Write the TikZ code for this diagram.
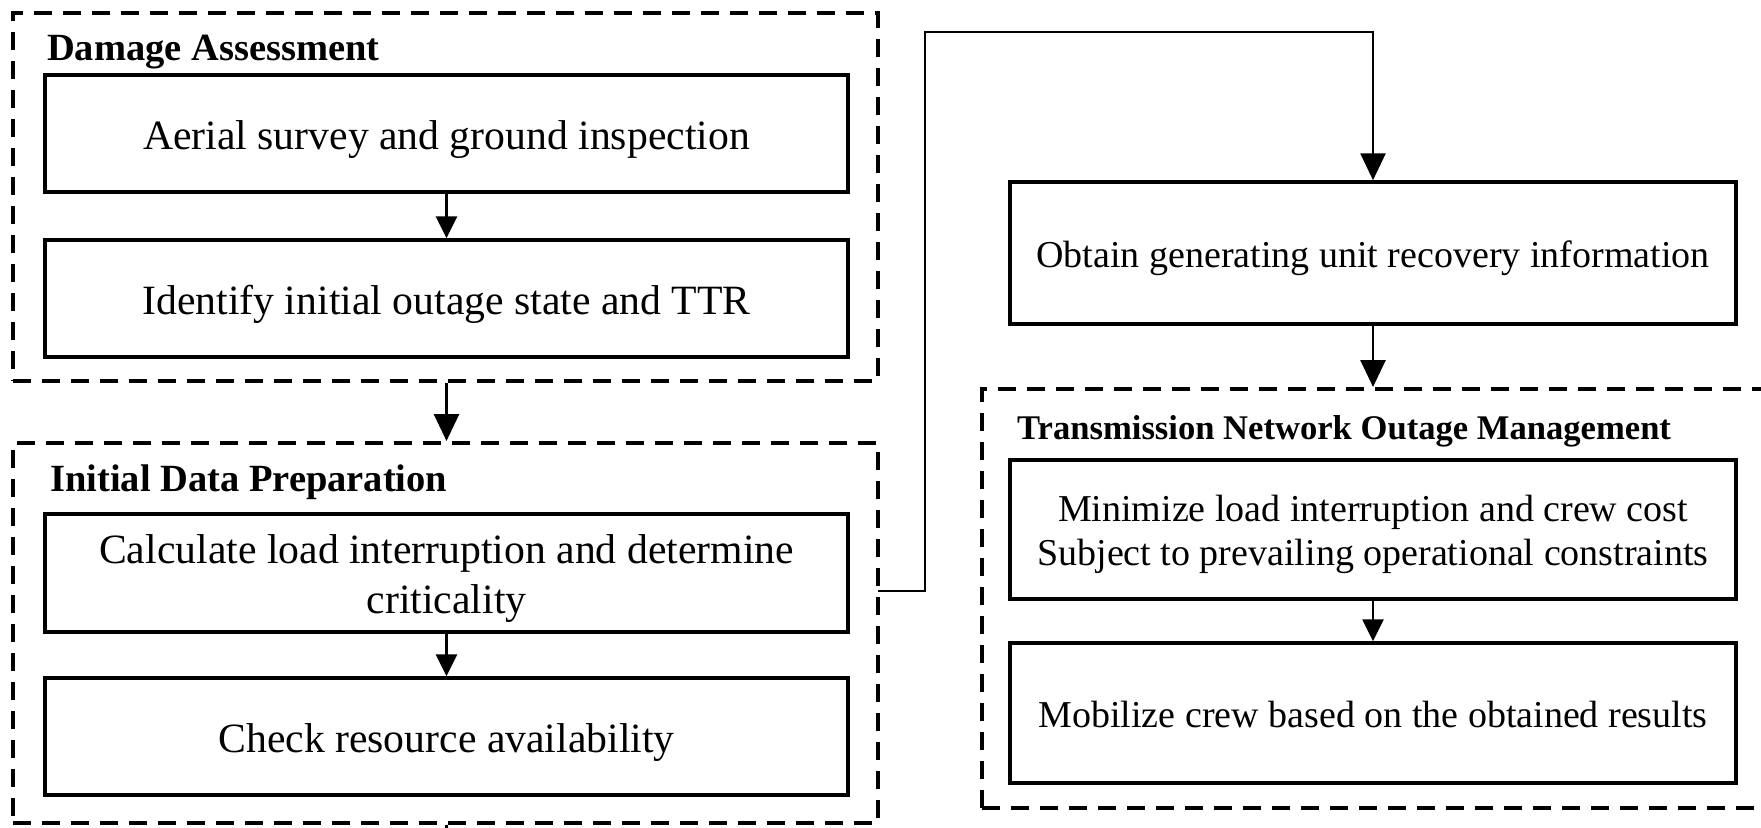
\documentclass[tikz,border=0pt]{standalone}
\usepackage{fontspec}
\setmainfont{Liberation Serif}
\usetikzlibrary{arrows.meta,calc}
\newcommand{\boxtxt}[1]{\raisebox{-5.5pt}[\height][\depth]{\begin{tabular}{@{}c@{}}#1\end{tabular}}}
\tikzset{
  stepbox/.style={draw,line width=3.5pt,minimum width=803pt,inner sep=0pt,
    font=\fontsize{41.7}{50}\selectfont},
  rbox/.style={draw,line width=3.5pt,minimum width=726pt,inner sep=0pt,
    font=\fontsize{38}{44}\selectfont},
  group/.style={draw,line width=4pt,dash pattern=on 18pt off 11pt,inner sep=0pt},
  gtitle/.style={anchor=base west,inner sep=0pt,font=\fontsize{38.5}{44}\selectfont\bfseries},
  conn/.style={line width=2.8pt},
  arr/.style={line width=2.8pt,-{Triangle[length=22pt,width=21pt]}},
  bigarr/.style={line width=2.8pt,-{Triangle[length=27pt,width=25pt]}}
}
\begin{document}
\begin{tikzpicture}[x=1pt,y=-1pt]
\fill[white] (0,0) rectangle (1761,827);
\clip (0,0) rectangle (1761,827);
% group boxes
\node[group,minimum width=865pt,minimum height=368pt] (da) at (445.5,197) {};
\node[group,minimum width=865pt,minimum height=380pt] (idp) at (445.5,633) {};
\node[group,minimum width=808pt,minimum height=419pt] (tnom) at (1386,598.5) {};
% titles
\node[gtitle] (tda) at (47,60) {Damage Assessment};
\node[gtitle] (tidp) at (50,491) {Initial Data Preparation};
\node[gtitle,font=\fontsize{34.6}{40}\selectfont\bfseries] (ttn) at (1017,439) {Transmission Network Outage Management};
% left boxes
\node[stepbox,minimum height=117pt] (b1) at (446.5,133.5) {\boxtxt{Aerial survey and ground inspection}};
\node[stepbox,minimum height=117pt] (b2) at (446.5,298.5) {\boxtxt{Identify initial outage state and TTR}};
\node[stepbox,minimum height=118pt] (b3) at (446.5,573) {\boxtxt{Calculate load interruption and determine\\criticality}};
\node[stepbox,minimum height=117pt] (b4) at (446.5,736.5) {\boxtxt{Check resource availability}};
% right boxes
\node[rbox,minimum height=142pt] (b5) at (1373,253) {\boxtxt{Obtain generating unit recovery information}};
\node[rbox,minimum height=139pt] (b6) at (1373,529.5) {\boxtxt{Minimize load interruption and crew cost\\Subject to prevailing operational constraints}};
\node[rbox,minimum height=140pt] (b7) at (1373,713) {\boxtxt{Mobilize crew based on the obtained results}};
% connectors
\draw[arr] (b1) -- (b2);
\draw[bigarr] (b2 |- da.south) -- (b2 |- idp.north);
\draw[arr] (b3) -- (b4);
\coordinate (c0) at (878,591);
\coordinate (ctop) at (925,32);
\draw[bigarr] (c0) -| (ctop) -| (b5.north);
\draw[bigarr] (b5) -- (b5 |- tnom.north);
\draw[arr] (b6) -- (b7);
\coordinate (cb) at (447,835);
\draw[conn] (b4 |- idp.south) -- (cb);
\end{tikzpicture}
\end{document}
